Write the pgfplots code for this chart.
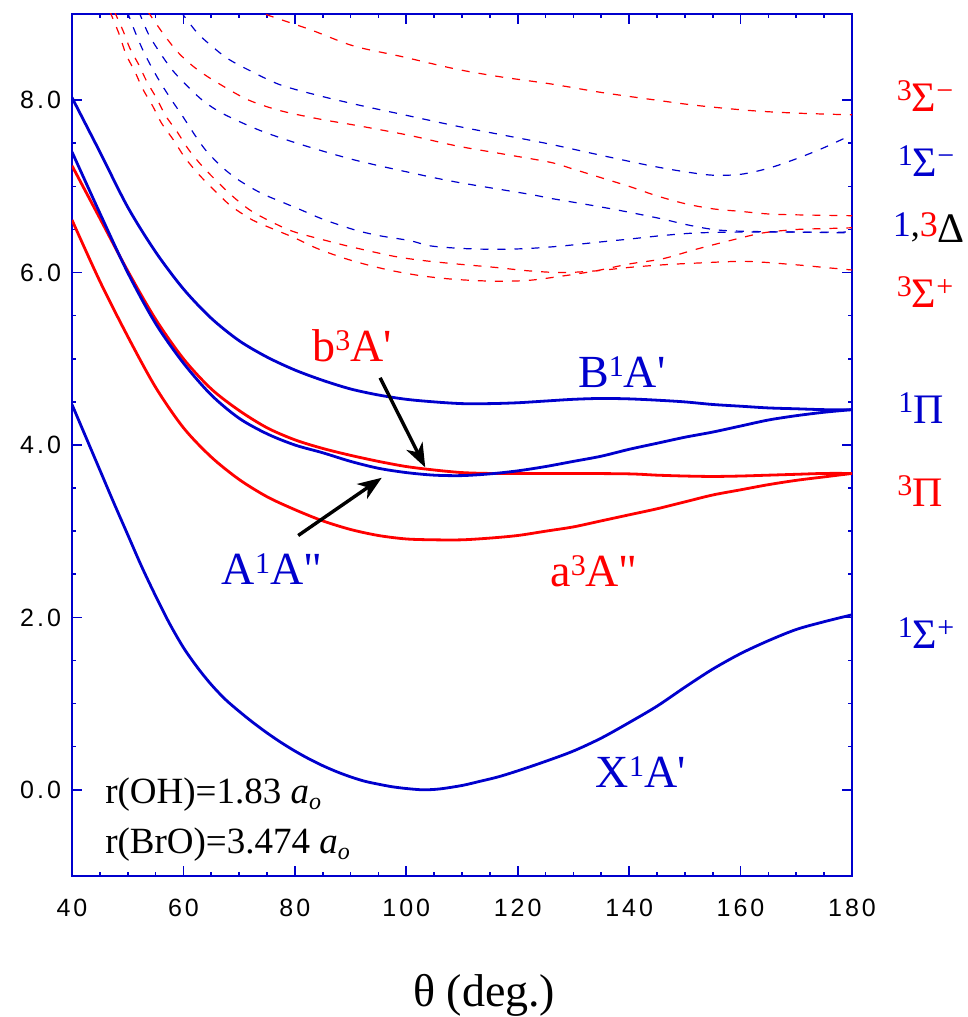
\documentclass[border=0pt]{standalone}
\usepackage{fontspec}
\setmainfont{Liberation Serif}
\newfontfamily\lbl{Liberation Serif}[Ligatures=TeXOff]
\newfontfamily\tck{Liberation Sans}[LetterSpace=12]
\usepackage{graphicx}
\usepackage{pgfplots}
\pgfplotsset{compat=1.18}
\usetikzlibrary{arrows.meta}
\definecolor{mblue}{RGB}{0,0,205}
\definecolor{mred}{RGB}{255,0,0}
\newcommand\su[1]{\raisebox{5.5pt}{\fontsize{15}{15}\selectfont #1}}
\begin{document}
\begin{tikzpicture}
\begin{axis}[
 scale only axis, width=390pt, height=431pt,
 xmin=40, xmax=180, ymin=-1, ymax=9,
 xtick={40,60,...,180}, ytick={0,2,4,6,8},
 minor x tick num=3, minor y tick num=3,
 tick align=inside,
 major tick length=5pt, minor tick length=2pt,
 axis line style={mblue, line width=0.8pt},
 tick style={mblue, line width=0.8pt},
 ticklabel style={font=\tck\fontsize{12.5}{12.5}\selectfont, text=black},
 /pgf/number format/assume math mode=true,
 y tick label style={/pgf/number format/.cd, fixed, fixed zerofill, precision=1, /tikz/.cd, xshift=-2pt},
 x tick label style={yshift=-8pt},
 clip mode=individual,
 solidb/.style={mblue, line width=1.4pt, smooth, tension=0.5},
 solidr/.style={mred, line width=1.4pt, smooth, tension=0.5},
 dashb/.style={mblue, line width=0.6pt, dash pattern=on 4pt off 4.5pt, smooth, tension=0.5},
 dashr/.style={mred, line width=0.6pt, dash pattern=on 4pt off 4.5pt, smooth, tension=0.5},
]
% X1A'
\addplot[solidb] coordinates {(40,4.47)(42.5,4.09)(45,3.71)(47.5,3.33)(50,2.96)(52.5,2.59)(55,2.25)(57.5,1.93)(60,1.65)(62.5,1.42)(65,1.22)(67.5,1.05)(70,0.91)(72.5,0.78)(75,0.66)(77.5,0.55)(80,0.45)(82.5,0.36)(85,0.28)(87.5,0.21)(90,0.15)(92.5,0.10)(95,0.065)(97.5,0.035)(100,0.015)(103,0.0)(106,0.01)(110,0.05)(113,0.095)(116.5,0.15)(120,0.22)(125,0.33)(130,0.45)(135,0.60)(140,0.78)(145,0.97)(150,1.19)(155,1.40)(160,1.58)(165,1.73)(170,1.86)(175,1.95)(180,2.03)};
% a3A''
\addplot[solidr] coordinates {(40,6.61)(45,5.90)(50,5.26)(55,4.67)(60,4.20)(65,3.86)(70,3.60)(75,3.40)(80,3.25)(85,3.12)(90,3.02)(95,2.95)(100,2.91)(105,2.90)(110,2.90)(115,2.92)(120,2.95)(125,3.00)(130,3.05)(135,3.12)(140,3.19)(145,3.26)(150,3.34)(155,3.42)(160,3.48)(165,3.54)(170,3.59)(175,3.63)(180,3.67)};
% b3A'
\addplot[solidr] coordinates {(40,7.24)(45,6.63)(50,6.02)(55,5.46)(60,5.00)(65,4.65)(70,4.40)(75,4.20)(80,4.06)(85,3.96)(90,3.88)(95,3.81)(100,3.75)(105,3.71)(110,3.68)(115,3.67)(120,3.67)(130,3.67)(140,3.665)(145,3.65)(150,3.64)(155,3.635)(160,3.64)(165,3.65)(170,3.66)(175,3.67)(180,3.67)};
% A1A''
\addplot[solidb] coordinates {(40,7.40)(45,6.69)(50,6.00)(55,5.41)(60,4.95)(65,4.58)(70,4.31)(75,4.13)(80,4.00)(85,3.91)(90,3.81)(95,3.73)(100,3.68)(105,3.65)(110,3.645)(115,3.665)(120,3.70)(125,3.75)(130,3.81)(135,3.87)(140,3.95)(145,4.02)(150,4.09)(155,4.15)(160,4.22)(165,4.29)(170,4.34)(175,4.38)(180,4.41)};
% B1A'
\addplot[solidb] coordinates {(40,8.03)(45,7.40)(50,6.76)(55,6.24)(60,5.81)(65,5.47)(70,5.21)(75,5.02)(80,4.87)(85,4.75)(90,4.65)(95,4.58)(100,4.53)(105,4.50)(110,4.48)(115,4.48)(120,4.49)(125,4.51)(130,4.53)(135,4.54)(140,4.535)(145,4.52)(150,4.50)(155,4.47)(160,4.45)(165,4.43)(170,4.42)(175,4.41)(180,4.41)};
% dashed: 3Sigma- (red1)
\addplot[dashr] coordinates {(72,9.07)(75,8.99)(82.7,8.82)(90.5,8.63)(98.9,8.51)(109,8.36)(117,8.27)(125.8,8.19)(135,8.09)(143.8,8.01)(152,7.94)(161.7,7.88)(170,7.85)(180,7.83)};
% 1Sigma- (blue1)
\addplot[dashb] coordinates {(59.5,9.03)(62.5,8.78)(65.4,8.61)(68,8.48)(71.4,8.36)(77.3,8.18)(84.5,8.05)(91.7,7.94)(98.9,7.84)(109,7.70)(117,7.60)(125.8,7.49)(135,7.36)(143.8,7.24)(150,7.17)(155,7.13)(160,7.14)(165,7.21)(170,7.32)(175,7.45)(180,7.60)};
% red2
\addplot[dashr] coordinates {(53.6,9.03)(56.5,8.76)(59.1,8.55)(62,8.38)(65.4,8.23)(71.4,8.01)(77.3,7.88)(84.5,7.78)(91.7,7.70)(100.7,7.59)(109,7.47)(117,7.38)(125.8,7.28)(130,7.20)(135,7.10)(140,7.00)(145,6.89)(150,6.80)(155,6.74)(160,6.71)(165,6.68)(170,6.67)(180,6.66)};
% blue2
\addplot[dashb] coordinates {(52.0,9.03)(53.7,8.77)(55.8,8.55)(58,8.35)(60.6,8.17)(63.6,7.99)(67.2,7.84)(73.7,7.65)(80.9,7.49)(90.5,7.31)(100.7,7.16)(109,7.05)(122,6.91)(126,6.86)(134.2,6.77)(140,6.70)(146.1,6.62)(150,6.56)(155.1,6.50)(160,6.48)(170,6.47)(180,6.47)};
% blue3
\addplot[dashb] coordinates {(49.9,9.03)(51.4,8.78)(52.8,8.57)(54.4,8.37)(56.1,8.18)(58,7.99)(60,7.80)(62,7.60)(64,7.42)(67,7.22)(70,7.07)(74,6.92)(78,6.81)(81,6.73)(85,6.62)(90.5,6.50)(95,6.43)(100.7,6.37)(104.3,6.31)(110,6.28)(116.2,6.27)(122,6.28)(128.2,6.31)(134,6.35)(140.2,6.39)(146,6.43)(152.1,6.46)(160,6.47)(170,6.47)(180,6.46)};
% red3 (3Sigma+)
\addplot[dashr] coordinates {(47.6,9.03)(49.2,8.80)(50.4,8.60)(52,8.41)(53.4,8.22)(55.2,8.02)(56.8,7.82)(58.9,7.63)(60.9,7.43)(63.3,7.24)(66,7.06)(69.1,6.87)(72.3,6.71)(76.7,6.56)(80,6.47)(85.7,6.37)(90,6.30)(97.7,6.19)(103,6.14)(109,6.10)(116,6.06)(122,6.02)(128,6.00)(134,6.02)(140,6.06)(146,6.09)(152,6.11)(161,6.13)(170,6.09)(175,6.06)(180,6.03)};
% red4 (3Delta)
\addplot[dashr] coordinates {(46.8,9.03)(48.5,8.76)(49.7,8.53)(51.3,8.33)(52.7,8.13)(54.5,7.93)(56.1,7.73)(58.2,7.54)(60.2,7.34)(62.6,7.15)(65.3,6.97)(68.4,6.78)(71.6,6.64)(73.7,6.57)(79.7,6.41)(84,6.28)(88.7,6.17)(93,6.09)(97.6,6.02)(103,5.96)(109,5.92)(116,5.90)(122,5.91)(128,5.96)(134,6.02)(140,6.10)(146,6.16)(152,6.27)(158,6.37)(164,6.46)(170,6.50)(175,6.51)(180,6.52)};

% arrows
\draw[black, line width=1.7pt, -{Stealth[length=12pt,width=9pt,inset=3.5pt]}] (axis cs:95.3,4.78) -- (axis cs:103.4,3.74);
\draw[black, line width=1.7pt, -{Stealth[length=12pt,width=9pt,inset=3.5pt]}] (axis cs:80.6,2.95) -- (axis cs:95.6,3.62);

% curve labels
\begin{scope}[every node/.style={font=\lbl\fontsize{23}{23}\selectfont, inner sep=0pt}]
\node[mred]  at (axis cs:90.3,5.15) {b\su{3}A'};
\node[mblue] at (axis cs:138.7,4.84) {B\su{1}A'};
\node[mblue] at (axis cs:75.9,2.56) {A\su{1}A"};
\node[mred]  at (axis cs:133.7,2.53) {a\su{3}A"};
\node[mblue] at (axis cs:142.1,0.20) {X\su{1}A'};
\end{scope}

% right labels
\begin{scope}[every node/.style={font=\lbl\fontsize{21}{21}\selectfont, inner sep=0pt}]
\node[mred]  at (axis cs:193.1,8.05) {\su{3}Σ\su{−}};
\node[mblue] at (axis cs:193.3,7.29) {\su{1}Σ\su{−}};
\node[black] at (axis cs:193.8,6.52) {\raisebox{3pt}{\fontsize{18}{18}\selectfont\textcolor{mblue}{1},\textcolor{mred}{3}}Δ};
\node[mred]  at (axis cs:193.1,5.77) {\su{3}Σ\su{+}};
\node[mblue] at (axis cs:192.4,4.43) {\su{1}Π};
\node[mred]  at (axis cs:192.2,3.47) {\su{3}Π};
\node[mblue] at (axis cs:193.3,1.82) {\su{1}Σ\su{+}};
\end{scope}

% parameters
\node[anchor=west, inner sep=0pt, font=\lbl\fontsize{18.5}{18.5}\selectfont] at (axis cs:45.9,-0.06) {r(OH)=1.83 \textit{a}\raisebox{-3pt}{\fontsize{12}{12}\selectfont\itshape o}};
\node[anchor=west, inner sep=0pt, font=\lbl\fontsize{18.5}{18.5}\selectfont] at (axis cs:45.9,-0.64) {r(BrO)=3.474 \textit{a}\raisebox{-3pt}{\fontsize{12}{12}\selectfont\itshape o}};

% x label
\node[font=\lbl\fontsize{23}{23}\selectfont] at (axis cs:114,-2.39) {θ (deg.)};

\coordinate (ll) at (rel axis cs:0,0);
\coordinate (ur) at (rel axis cs:1,1);
\end{axis}
\pgfresetboundingbox
\path ([shift={(-36pt,-70.5pt)}]ll) rectangle ([shift={(58pt,7pt)}]ur);
\end{tikzpicture}
\end{document}
